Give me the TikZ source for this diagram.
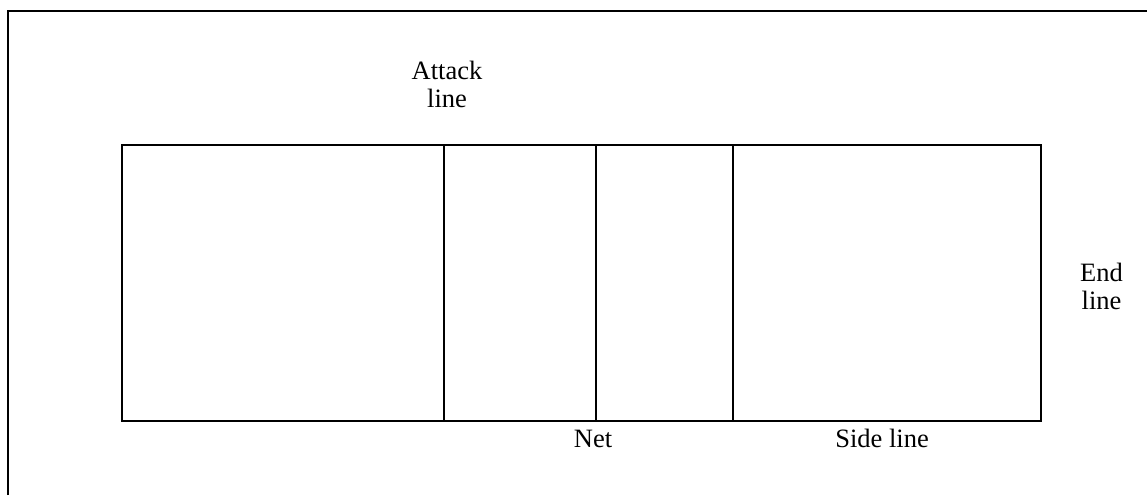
\documentclass[tikz,border=0pt]{standalone}
\usepackage{fontspec}
\setmainfont{Liberation Serif}
\begin{document}
\begin{tikzpicture}[x=1pt,y=1pt,
  frame/.style={line width=2pt},
  courtline/.style={line width=2pt},
  label/.style={font=\fontsize{26.5}{28.5}\selectfont, align=center, inner sep=0pt, anchor=base}]
\useasboundingbox (0,0) rectangle (1147,495);
% page frame, running off the right and bottom edges
\coordinate (fb) at (8,0);
\coordinate (ftl) at (8,484);
\coordinate (fr) at (1147,484);
\draw[frame] (fb) -- (ftl) -- (fr);
% court outline
\coordinate (c1) at (122,74);
\coordinate (c2) at (1041,350);
\draw[courtline] (c1) rectangle (c2);
% attack line, net, attack line
\foreach \x/\n in {444/a1,596/net,733/a2} {
  \coordinate (\n b) at (\x,74);
  \coordinate (\n t) at (\x,350);
  \draw[courtline] (\n b) -- (\n t);
}
% labels (base anchor sits on the last line)
\node[label] (attack) at (447,387) {Attack\\line};
\node[label] (endl) at (1101.5,185) {End\\line};
\node[label] (netl) at (593,48) {Net};
\node[label] (side) at (882,48) {Side line};
\end{tikzpicture}
\end{document}
